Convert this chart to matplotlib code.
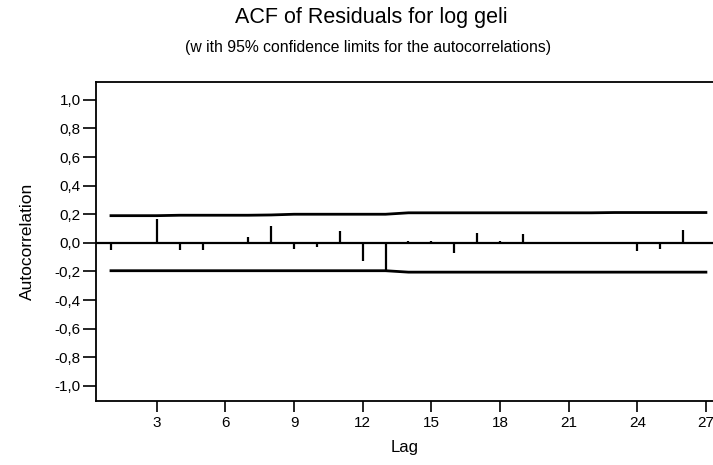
import matplotlib
matplotlib.use("Agg")
import matplotlib.pyplot as plt
from matplotlib.ticker import FuncFormatter

plt.rcParams['font.family'] = ['Liberation Sans', 'DejaVu Sans']

lags = list(range(1, 28))
acf = [-0.05, 0.00, 0.17, -0.05, -0.05, 0.00, 0.04, 0.12, -0.04, -0.03,
       0.08, -0.13, -0.20, 0.01, 0.01, -0.07, 0.07, 0.015, 0.06, 0.00,
       0.00, -0.01, 0.00, -0.06, -0.04, 0.09, 0.00]
upper = [0.19, 0.19, 0.19, 0.193, 0.193, 0.193, 0.193, 0.195, 0.20, 0.20,
         0.20, 0.20, 0.20, 0.21, 0.21, 0.21, 0.21, 0.21, 0.21, 0.21,
         0.21, 0.21, 0.212, 0.212, 0.212, 0.212, 0.212]
lower = [-0.195, -0.195, -0.195, -0.195, -0.195, -0.195, -0.195, -0.195, -0.195, -0.195,
         -0.195, -0.195, -0.195, -0.205, -0.205, -0.205, -0.205, -0.205, -0.205, -0.205,
         -0.205, -0.205, -0.205, -0.205, -0.205, -0.205, -0.205]
xticks = [3, 6, 9, 12, 15, 18, 21, 24, 27]
yticks = [-1.0, -0.8, -0.6, -0.4, -0.2, 0.0, 0.2, 0.4, 0.6, 0.8, 1.0]

fig = plt.figure(figsize=(7.13, 4.65), dpi=100)
ax = fig.add_axes([0.1353, 0.138, 0.8647, 0.686])

ax.vlines(lags, 0, acf, color='black', linewidth=1.6)
ax.plot(lags, upper, color='black', linewidth=2.0)
ax.plot(lags, lower, color='black', linewidth=2.0)
ax.axhline(0, color='black', linewidth=1.6)

ax.set_xlim(0.366, 27.31)
ax.set_ylim(-1.105, 1.126)
ax.set_xticks(xticks)
ax.set_yticks(yticks)
ax.yaxis.set_major_formatter(FuncFormatter(lambda v, p: f"{v:.1f}".replace('.', ',').replace('-0,0', '0,0')))
ax.tick_params(axis='both', direction='out', width=1.2, labelsize=11, colors='black')
ax.tick_params(axis='y', length=9.4, pad=2)
ax.tick_params(axis='x', length=8, pad=3)
ax.spines['right'].set_visible(False)
for s in ['left', 'bottom', 'top']:
    ax.spines[s].set_linewidth(1.3)

ax.set_xlabel('Lag', fontsize=12, labelpad=7)
ax.set_ylabel('Autocorrelation', fontsize=12.5, labelpad=14)

fig.text(0.521, 0.962, 'ACF of Residuals for log geli', ha='center', va='center', fontsize=15.5)
fig.text(0.516, 0.897, '(w ith 95% confidence limits for the autocorrelations)', ha='center', va='center', fontsize=11.3)

fig.savefig('out.png', dpi=100)
